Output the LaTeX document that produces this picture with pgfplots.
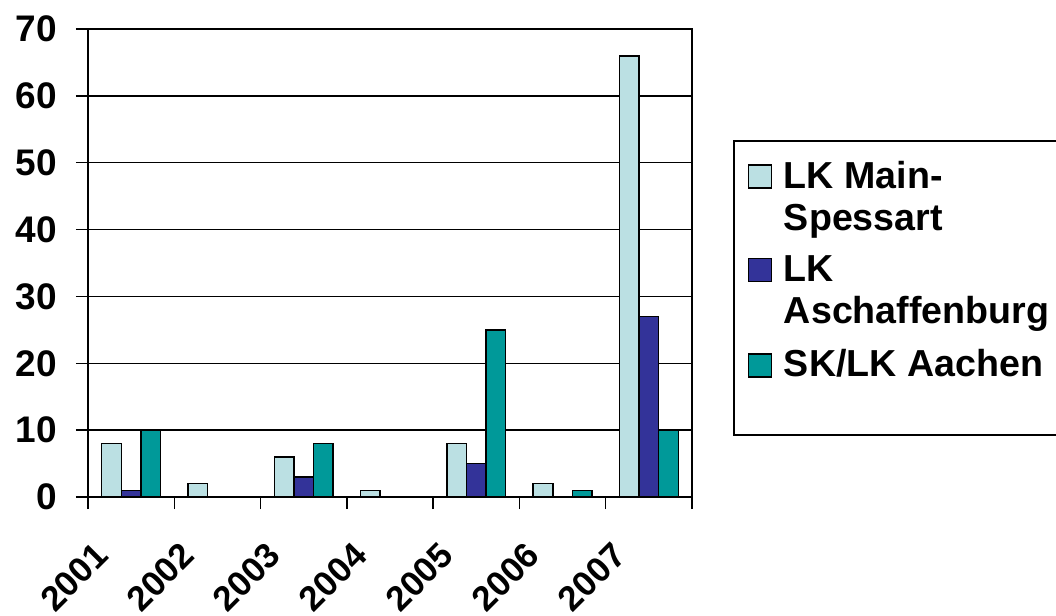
\documentclass[border=0pt]{standalone}
\usepackage{pgfplots}
\pgfplotsset{compat=1.18}
\usepackage{fontspec}
\setmainfont{Liberation Sans}
\definecolor{c1}{HTML}{BBE0E3}
\definecolor{c2}{HTML}{333399}
\definecolor{c3}{HTML}{009999}
\newcommand{\twol}[2]{\vtop{\hbox{#1}\hbox{#2}}}
\begin{document}
\begin{tikzpicture}
\useasboundingbox (-44pt,-59.5pt) rectangle (484pt,248.5pt);
\begin{axis}[
  at={(0pt,0pt)}, anchor=south west,
  scale only axis, width=302pt, height=234pt,
  xmin=-0.5, xmax=6.5, ymin=0, ymax=70,
  ybar=0pt, bar width=9.8pt,
  xtick={-0.5,0.5,...,6.5}, xticklabels={},
  extra x ticks={0,1,2,3,4,5,6},
  extra x tick labels={2001,2002,2003,2004,2005,2006,2007},
  extra x tick style={major tick length=0pt, grid=none,
    tick label style={font=\fontsize{17.5}{20}\selectfont\bfseries,
      anchor=center, xshift=-28.5pt, yshift=-40pt, rotate=45}},
  ytick={0,10,...,70},
  xtick pos=left, ytick pos=left,
  tick align=outside,
  major tick length=6pt,
  ymajorgrids, grid style={black, line width=0.75pt},
  axis line style={line width=0.75pt},
  every tick/.style={black, line width=0.75pt},
  tick label style={font=\fontsize{18.5}{21}\selectfont\bfseries},
  yticklabel style={xshift=-6pt},
  /pgf/number format/assume math mode=true,
  legend style={at={(1.0679,0.7628)}, anchor=north west,
    draw=black, line width=0.75pt,
    font=\fontsize{18.8}{21}\selectfont\bfseries,
    inner xsep=7pt, inner ysep=10pt, row sep=9pt, column sep=6pt,
    nodes={inner sep=0pt, text depth={}, text height={}},
    cells={anchor=base west}},
  legend image code/.code={\draw[#1, draw=black, line width=0.6pt] (0pt,0pt) rectangle (11.5pt,11.5pt);},
]
\addplot[fill=c1, draw=black, line width=0.75pt] coordinates {(0,8)(1,2)(2,6)(3,1)(4,8)(5,2)(6,66)};
\addplot[fill=c2, draw=black, line width=0.75pt] coordinates {(0,1)(2,3)(4,5)(6,27)};
\addplot[fill=c3, draw=black, line width=0.75pt] coordinates {(0,10)(2,8)(4,25)(5,1)(6,10)};
\legend{{\twol{LK Main-}{Spessart}},{\twol{LK}{Aschaffenburg}},{SK/LK Aachen\rule[-19pt]{0pt}{19pt}}}
\end{axis}
\end{tikzpicture}
\end{document}
